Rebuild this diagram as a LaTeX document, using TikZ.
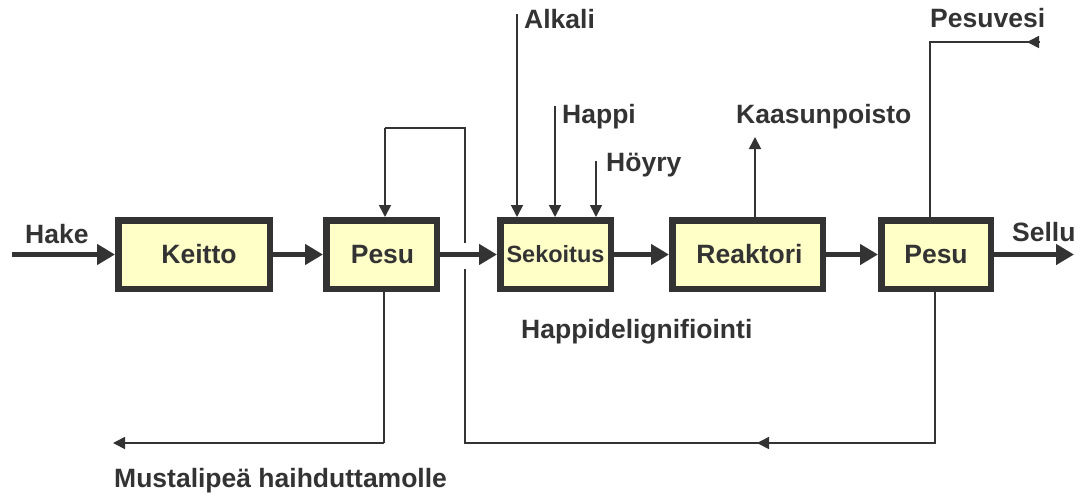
\documentclass[tikz,border=0pt]{standalone}
\usepackage{fontspec}
\setmainfont{Liberation Sans}
\usetikzlibrary{arrows.meta}
\definecolor{ink}{HTML}{333333}
\definecolor{boxfill}{HTML}{FFFFC8}
\begin{document}
\begin{tikzpicture}[x=1pt,y=-1pt,
  unit/.style={draw=ink,fill=boxfill,line width=6.5pt,minimum height=68.5pt,
    inner sep=0pt,text=ink,font=\fontsize{26.5}{30}\selectfont\bfseries},
  flow/.style={draw=ink,line width=5pt,-{Triangle[length=18pt,width=20pt]}},
  feed/.style={draw=ink,line width=1.7pt,-{Triangle[length=12pt,width=12pt]}},
  pipe/.style={draw=ink,line width=1.7pt},
  lbl/.style={text=ink,inner sep=0pt,anchor=base west,
    font=\fontsize{26.5}{30}\selectfont\bfseries}
]
\useasboundingbox (0,0) rectangle (1083,493);

% process units
\node[unit,minimum width=151.5pt,text width=151.5pt,align=center] (keitto) at (194,254.5) {\hspace*{10pt}Keitto};
\node[unit,minimum width=110.5pt] (pesuA)  at (381.5,254.5) {\hspace*{2pt}Pesu};
\node[unit,minimum width=110.5pt,font=\fontsize{23.5}{26}\selectfont\bfseries] (seko) at (555.5,254.5) {Sekoitus};
\node[unit,minimum width=150.5pt] (reak)   at (747.5,254.5) {\hspace*{4pt}Reaktori};
\node[unit,minimum width=109.5pt] (pesuB)  at (936,254.5) {Pesu};

% main fibre line
\coordinate (hakeIn) at (12,254.5);
\coordinate (selluOut) at (1074,254.5);
\draw[flow] (hakeIn) -- (keitto.west);
\draw[flow] (keitto.east) -- (pesuA.west);
\draw[flow] (pesuA.east) -- (seko.west);
\draw[flow] (seko.east) -- (reak.west);
\draw[flow] (reak.east) -- (pesuB.west);
\draw[flow] (pesuB.east) -- (selluOut);

% labels
\node[lbl] (hake) at (25,243) {Hake};
\node[lbl] (sellu) at (1012,241) {Sellu};
\node[lbl] (alkali) at (524,28) {Alkali};
\node[lbl] (happi) at (562,123) {Happi};
\node[lbl] (hoyry) at (606,171) {Höyry};
\node[lbl] (kaasu) at (736,123) {Kaasunpoisto};
\node[lbl] (pesuvesi) at (930,27) {Pesuvesi};
\node[lbl] (hdl) at (521,338) {Happidelignifiointi};
\node[lbl] (musta) at (114,487) {Mustalipeä haihduttamolle};

% chemical feeds to the mixer
\coordinate (alkTop) at (517,14);
\coordinate (hapTop) at (555,106);
\coordinate (hoyTop) at (596,161);
\draw[feed] (alkTop) -- (alkTop |- seko.north);
\draw[feed] (hapTop) -- (hapTop |- seko.north);
\draw[feed] (hoyTop) -- (hoyTop |- seko.north);

% gas vent from the reactor
\coordinate (gasTop) at (755,137);
\draw[feed] (gasTop |- reak.north) -- (gasTop);

% wash water to the last washer
\coordinate (pvBend) at (930,42);
\coordinate (pvEnd) at (1040,42);
\coordinate (pvTip) at (1027,42);
\draw[pipe] (pvBend |- pesuB.north) -- (pvBend) -- (pvEnd);
\draw[feed,{Triangle[length=12pt,width=12pt]}-] (pvTip) -- (pvEnd);

% black liquor to evaporation
\coordinate (blDown) at (384,443);
\coordinate (blEnd) at (113,443);
\draw[pipe] (blDown |- pesuA.south) -- (blDown);
\draw[feed] (blDown) -- (blEnd);

% filtrate counter-current back to the first washer
\coordinate (retR) at (935,443);
\coordinate (retL) at (465,443);
\coordinate (retMid) at (757,443);
\coordinate (gapLow) at (465,269);
\coordinate (gapHigh) at (465,243);
\coordinate (loopR) at (465,128);
\coordinate (loopL) at (385,128);
\draw[pipe] (retR |- pesuB.south) -- (retR) -- (retL) -- (gapLow);
\draw[feed,{Triangle[length=12pt,width=12pt]}-] (retMid) -- ++(14,0);
\draw[pipe] (gapHigh) -- (loopR) -- (loopL);
\draw[feed] (loopL) -- (loopL |- pesuA.north);
\end{tikzpicture}
\end{document}
